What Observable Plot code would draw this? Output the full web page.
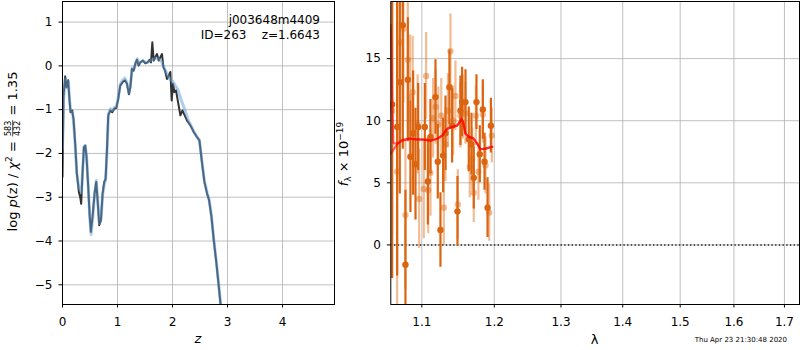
<!DOCTYPE html>
<html><head><meta charset="utf-8">
<script src="https://cdn.jsdelivr.net/npm/d3@7"></script>
<script src="https://cdn.jsdelivr.net/npm/@observablehq/plot@0.6"></script>
<style>
body{margin:0;background:#fff;}
#wrap{position:relative;width:800px;height:350px;overflow:hidden;background:#fff;font-family:"DejaVu Sans",sans-serif;}
#wrap > svg{position:absolute;top:0;}
</style></head><body><div id="wrap"></div>
<script>
// ---- left panel: log p(z) ----
const zDark = [0.0,0.018,0.049,0.073,0.103,0.128,0.146,0.176,0.2,0.231,0.261,0.298,0.322,0.34,0.364,0.389,0.413,0.437,0.468,0.492,0.516,0.546,0.583,0.613,0.638,0.668,0.698,0.729,0.759,0.783,0.808,0.832,0.868,0.905,0.941,0.978,1.014,1.05,1.093,1.135,1.172,1.208,1.233,1.263,1.293,1.324,1.354,1.384,1.415,1.463,1.506,1.548,1.585,1.609,1.633,1.658,1.688,1.718,1.749,1.779,1.809,1.834,1.864,1.9,1.931,1.961,1.985,2.01,2.034,2.064,2.095,2.143,2.18,2.222,2.265,2.325,2.386,2.447,2.489,2.538,2.58,2.629,2.665,2.708,2.75,2.799,2.842,2.884];
const logpDark = [-2.54,-0.71,-0.24,-0.49,-0.33,-0.79,-1.06,-1.02,-1.21,-1.78,-2.46,-2.88,-3.0,-3.15,-2.46,-1.86,-1.82,-2.08,-2.77,-3.38,-3.79,-3.45,-2.92,-2.65,-3.07,-3.64,-3.53,-2.92,-2.65,-2.58,-1.93,-1.13,-1.02,-1.06,-0.98,-0.96,-0.75,-0.45,-0.37,-0.33,-0.41,-0.65,-0.49,-0.07,-0.11,0.05,0.14,0.01,0.08,0.12,0.06,0.08,0.14,0.08,0.54,0.12,0.2,0.27,0.12,0.2,0.27,-0.03,-0.11,-0.3,-0.22,-0.14,-0.79,-0.41,-0.6,-0.56,-0.79,-1.13,-1.02,-1.13,-1.25,-1.36,-1.51,-1.63,-1.7,-2.24,-2.65,-2.92,-3.07,-3.45,-3.98,-4.52,-5.05,-5.58];
const zBlue = [0.0,0.02,0.05,0.075,0.105,0.13,0.15,0.18,0.2,0.23,0.26,0.3,0.32,0.345,0.365,0.39,0.415,0.44,0.47,0.495,0.52,0.55,0.585,0.615,0.64,0.67,0.7,0.73,0.76,0.785,0.81,0.835,0.87,0.91,0.94,0.98,1.015,1.05,1.095,1.135,1.17,1.21,1.235,1.265,1.3,1.33,1.36,1.39,1.42,1.46,1.5,1.55,1.6,1.65,1.7,1.75,1.8,1.85,1.9,1.95,2.0,2.05,2.1,2.15,2.2,2.25,2.3,2.35,2.4,2.45,2.49,2.54,2.58,2.63,2.665,2.71,2.75,2.8,2.845,2.885];
const logpBlue = [-1.9,-0.75,-0.3,-0.5,-0.35,-0.8,-1.05,-1.05,-1.25,-1.8,-2.45,-2.8,-2.78,-2.9,-2.4,-1.85,-1.82,-2.1,-2.8,-3.45,-3.85,-3.45,-2.9,-2.62,-3.05,-3.6,-3.5,-2.95,-2.7,-2.6,-1.95,-1.1,-0.98,-1.02,-0.95,-0.93,-0.72,-0.42,-0.32,-0.28,-0.38,-0.62,-0.45,-0.05,-0.08,0.07,0.16,0.04,0.09,0.12,0.08,0.09,0.12,0.15,0.18,0.16,0.1,-0.05,-0.18,-0.3,-0.35,-0.45,-0.55,-0.75,-0.92,-1.1,-1.28,-1.4,-1.53,-1.63,-1.7,-2.22,-2.63,-2.9,-3.05,-3.43,-3.96,-4.5,-5.05,-5.58];
const zTicks = [0,1,2,3,4];
const logpTicks = [-5,-4,-3,-2,-1,0,1];

// ---- right panel: spectrum ----
const lamA = [1.0615,1.0679,1.0713,1.0752,1.0786,1.0817,1.0851,1.0886,1.0917,1.0952,1.104,1.108,1.1115,1.1182,1.1213,1.1249,1.1285,1.1317,1.1371,1.1408,1.1481,1.1522,1.1545,1.1592,1.1638,1.1676,1.1708,1.1746,1.1793,1.1836,1.186,1.1903,1.1951];
const fluxA = [11.3,9.5,13.1,17.7,-1.6,13.3,7.1,9.0,6.5,9.5,9.5,5.1,8.7,11.9,6.7,1.2,7.2,9.0,12.7,9.6,2.7,10.8,11.5,11.5,8.5,8.1,5.4,11.5,7.3,10.9,6.7,3.0,9.6];
const errA = [14,12,9,10,6,5,4.5,5,4.5,3.5,3.5,3.5,3,3,3,3,3,3,3,3,2.8,2.8,2.8,2.6,2.6,2.5,2.5,2.2,2.3,2.4,2.3,2.4,2.2];
const lamB = [1.0615,1.0679,1.072,1.076,1.0786,1.0817,1.0845,1.088,1.0945,1.0965,1.1026,1.1057,1.1085,1.1115,1.115,1.1185,1.122,1.126,1.1295,1.1317,1.135,1.1385,1.1421,1.1453,1.1486,1.1522,1.1555,1.1592,1.1652,1.1685,1.1708,1.1737,1.1774,1.1836,1.1874,1.1927,1.1965];
const fluxB = [10.8,5.9,16.3,17.4,2.4,14.9,11.9,12.3,9.7,3.7,4.5,13.6,4.4,5.8,10.2,11.1,9.7,10.4,3.0,8.1,10.8,15.6,10.0,12.0,3.25,10.4,11.1,10.6,6.3,6.9,4.2,10.4,5.9,10.5,6.4,2.6,8.8];
const errB = [10,12,8,6,6,5,5,4.5,4,4,4,3.5,3.5,3.5,3.2,3,3,3,3,3,3,3,2.8,2.8,2.8,2.6,2.6,2.5,2.5,2.5,2.4,2.4,2.3,2.3,2.3,2.3,2.2];
const lamModelA = [1.0598,1.0679,1.0743,1.083,1.0939,1.1026,1.1115,1.1204,1.1272,1.134,1.1408,1.1477,1.1536,1.1559,1.1592,1.1638,1.1699,1.1756,1.1803,1.1874,1.1971];
const modelA = [7.35,8.1,8.4,8.55,8.5,8.47,8.4,8.55,8.8,9.35,9.5,9.6,10.15,9.9,8.95,8.7,8.6,8.15,7.7,7.75,7.9];
const lamModelB = [1.0598,1.0615,1.063,1.0679,1.0743,1.083,1.0939,1.1026,1.1115,1.1204,1.1272,1.134,1.1408,1.1477,1.1536,1.1559,1.1592,1.1638,1.1699,1.1756,1.1803,1.1874,1.1971];
const modelB = [17.7,12.0,8.2,8.15,8.45,8.55,8.5,8.47,8.4,8.55,8.8,9.35,9.5,9.6,10.1,9.9,8.95,8.7,8.6,8.15,7.7,7.75,7.9];
const lamTicks = [1.1,1.2,1.3,1.4,1.5,1.6,1.7];
const fluxTicks = [0,5,10,15];

const darkLine = zDark.map((z,i)=>({z, v: logpDark[i]}));
const blueLine = zBlue.map((z,i)=>({z, v: logpBlue[i]}));
const ptsA = lamA.map((l,i)=>({l, f: fluxA[i], e: errA[i]}));
const ptsB = lamB.map((l,i)=>({l, f: fluxB[i], e: errB[i]}));
const modA = lamModelA.map((l,i)=>({l, f: modelA[i]}));
const modB = lamModelB.map((l,i)=>({l, f: modelB[i]}));

const intFmt = d => d < 0 ? "\u2212" + Math.abs(d) : String(d);
const gridStyle = {stroke:"#b0b0b0", strokeOpacity:1, strokeWidth:0.8};
const baseStyle = {fontFamily:"DejaVu Sans", fontSize:"12px", color:"black", background:"transparent", overflow:"visible"};
const wrap = document.getElementById("wrap");

const left = Plot.plot({
  width: 340, height: 350,
  marginLeft: 62, marginRight: 6, marginTop: 1, marginBottom: 46,
  style: baseStyle,
  x: {domain:[0, 4.945]},
  y: {domain:[-5.45, 1.47]},
  marks: [
    Plot.gridX(zTicks, gridStyle),
    Plot.gridY(logpTicks, gridStyle),
    Plot.line(darkLine, {x:"z", y:"v", stroke:"#333333", strokeWidth:2, clip:true}),
    Plot.line(blueLine, {x:"z", y:"v", stroke:"#5b9bd5", strokeOpacity:0.5, strokeWidth:3, clip:true}),
    Plot.axisX({ticks: zTicks, tickSize:3.5, tickPadding:9, label:null, fontSize:12, tickFormat: intFmt}),
    Plot.axisY({ticks: logpTicks, tickSize:3.5, tickPadding:6.5, label:null, fontSize:12, tickFormat: intFmt}),
    Plot.frame({stroke:"black", strokeWidth:1})
  ]
});
left.style.left = "0px";
wrap.appendChild(left);

const right = Plot.plot({
  width: 460, height: 350,
  marginLeft: 50.3, marginRight: 1, marginTop: 1, marginBottom: 46,
  style: baseStyle,
  x: {type:"log", domain:[1.0598, 1.731]},
  y: {domain:[-4.8, 19.6]},
  marks: [
    Plot.gridX(lamTicks, gridStyle),
    Plot.gridY(fluxTicks, gridStyle),
    Plot.ruleY([0], {stroke:"#222", strokeWidth:1.5, strokeDasharray:"1.4,2.3"}),
    Plot.ruleX(ptsB, {x:"l", y1:d=>d.f-d.e, y2:d=>d.f+d.e, stroke:"#e06a10", strokeOpacity:0.45, strokeWidth:2.2, clip:true}),
    Plot.dot(ptsB, {x:"l", y:"f", r:3.2, fill:"#e06a10", fillOpacity:0.45, clip:true}),
    Plot.ruleX(ptsA, {x:"l", y1:d=>d.f-d.e, y2:d=>d.f+d.e, stroke:"#db6410", strokeWidth:2.2, clip:true}),
    Plot.dot(ptsA, {x:"l", y:"f", r:3.2, fill:"#db6410", clip:true}),
    Plot.line(modB, {x:"l", y:"f", stroke:"red", strokeOpacity:0.6, strokeWidth:2.2, clip:true}),
    Plot.line(modA, {x:"l", y:"f", stroke:"red", strokeOpacity:0.6, strokeWidth:2.2, clip:true}),
    Plot.axisX({ticks: lamTicks, tickSize:3.5, tickPadding:9, label:null, fontSize:12, tickFormat: d=>d.toFixed(1)}),
    Plot.axisY({ticks: fluxTicks, tickSize:3.5, tickPadding:6.5, label:null, fontSize:12, tickFormat: intFmt}),
    Plot.frame({stroke:"black", strokeWidth:1})
  ]
});
right.style.left = "340px";
wrap.appendChild(right);

// ---- text overlay ----
const ov = d3.select(wrap).append("svg").attr("width",800).attr("height",350)
  .style("position","absolute").style("left","0px").style("top","0px")
  .style("font-family","DejaVu Sans").style("font-size","12px")
  .style("pointer-events","none");

// left y label
const gl = ov.append("g").attr("transform","translate(16.8,151.5) rotate(-90)").attr("font-size","13px");
const gi = gl.append("g");
const t1 = gi.append("text").attr("x",0).attr("y",0);
t1.append("tspan").text("log\u00A0");
t1.append("tspan").attr("font-style","italic").text("p");
t1.append("tspan").text("(z)\u00A0/\u00A0");
t1.append("tspan").attr("font-style","italic").text("χ");
t1.append("tspan").attr("font-size","9px").attr("dy",-5).text("2");
t1.append("tspan").attr("dy",5).text("\u00A0=\u00A0");
const w1 = t1.node().getComputedTextLength();
const num = gi.append("text").attr("font-size","8px").attr("text-anchor","middle").attr("y",-5.6).text("583");
const den = gi.append("text").attr("font-size","8px").attr("text-anchor","middle").attr("y",2.8).text("432");
const fw = Math.max(num.node().getComputedTextLength(), den.node().getComputedTextLength()) + 2;
num.attr("x", w1 + fw/2); den.attr("x", w1 + fw/2);
gi.append("line").attr("x1", w1+0.5).attr("x2", w1+fw-0.5).attr("y1",-4.1).attr("y2",-4.1).attr("stroke","black").attr("stroke-width",0.7);
const t3 = gi.append("text").attr("x", w1+fw).attr("y",0).text("\u00A0=\u00A01.35");
const L = w1 + fw + t3.node().getComputedTextLength();
gi.attr("transform", `translate(${-L/2},0)`);

// right y label
ov.append("g").attr("transform","translate(348,154) rotate(-90)")
  .append("text").attr("text-anchor","middle").attr("font-size","13px")
  .call(t => {
    t.append("tspan").attr("font-style","italic").text("f");
    t.append("tspan").attr("font-size","9px").attr("dy",2.5).text("λ");
    t.append("tspan").attr("dy",-2.5).text("\u00A0×\u00A010");
    t.append("tspan").attr("font-size","9px").attr("dy",-5).text("−19");
  });

// x labels
ov.append("text").attr("x",198).attr("y",343).attr("text-anchor","middle").attr("font-size","13px").attr("font-style","italic").text("z");
ov.append("text").attr("x",594.5).attr("y",344).attr("text-anchor","middle").attr("font-size","13px").text("λ");

// annotation
ov.append("text").attr("x",320).attr("y",24).attr("text-anchor","end").text("j003648m4409");
ov.append("text").attr("x",320).attr("y",39.3).attr("text-anchor","end").text("ID=263\u00A0\u00A0\u00A0\u00A0z=1.6643");

// timestamp
ov.append("text").attr("x",787).attr("y",342).attr("text-anchor","end").attr("font-size","7px").text("Thu Apr 23 21:30:48 2020");
</script></body></html>
